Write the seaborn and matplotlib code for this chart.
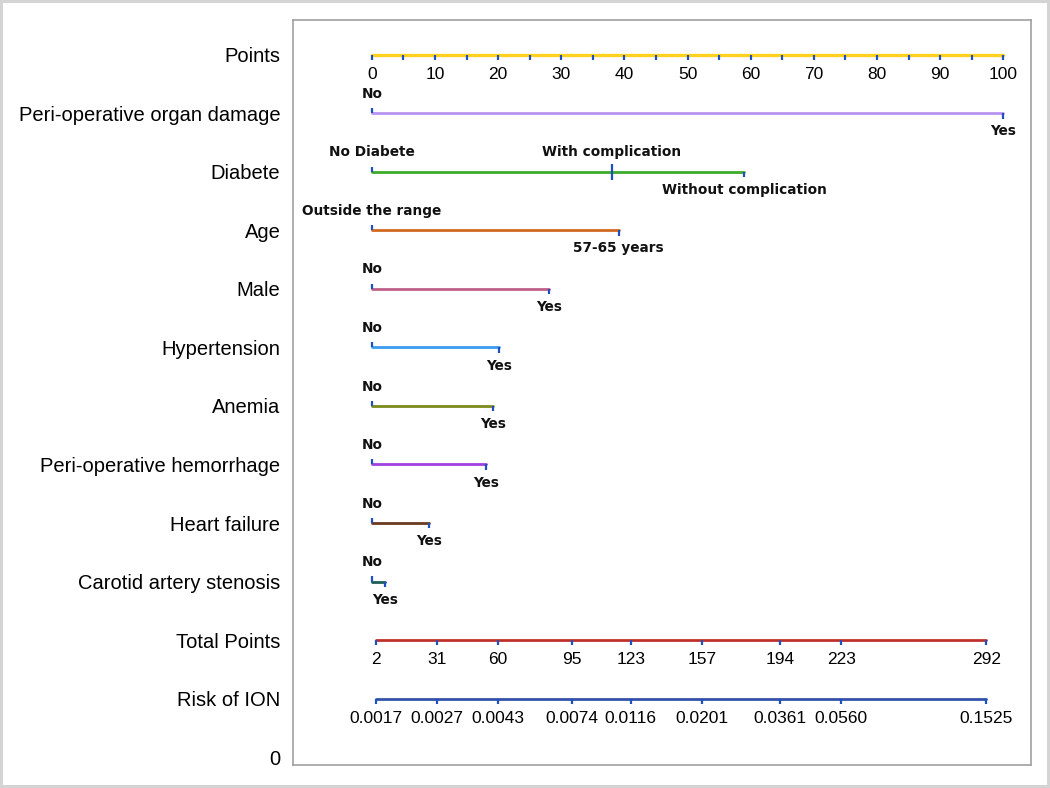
import matplotlib
matplotlib.use("Agg")
import matplotlib.pyplot as plt
import seaborn as sns

# rows of the nomogram, top to bottom
row_names = ["Points", "Peri-operative organ damage", "Diabete", "Age", "Male",
             "Hypertension", "Anemia", "Peri-operative hemorrhage", "Heart failure",
             "Carotid artery stenosis", "Total Points", "Risk of ION", "0"]

points_ticks = list(range(0, 101, 5))
points_labels = list(range(0, 101, 10))

# predictor scales (points on the Points axis + level labels)
organ_pts = [0, 100]
organ_lab = ["No", "Yes"]
diabete_pts = [0, 38, 59]
diabete_lab = ["No Diabete", "With complication", "Without complication"]
age_pts = [0, 39.1]
age_lab = ["Outside the range", "57-65 years"]
male_pts = [0, 28.1]
hyper_pts = [0, 20.1]
anemia_pts = [0, 19.2]
hemor_pts = [0, 18.1]
heart_pts = [0, 9.0]
carotid_pts = [0, 2.1]
no_yes = ["No", "Yes"]

total_ticks = [2, 31, 60, 95, 123, 157, 194, 223, 292]
risk_labels = ["0.0017", "0.0027", "0.0043", "0.0074", "0.0116",
               "0.0201", "0.0361", "0.0560", "0.1525"]
total_per_point = 3.0  # total points -> points axis

predictors = [
    ("Peri-operative organ damage", organ_pts, organ_lab, ["a", "b"], "#B794F0"),
    ("Diabete", diabete_pts, diabete_lab, ["a", "a", "b"], "#3DAA2E"),
    ("Age", age_pts, age_lab, ["a", "b"], "#D2691E"),
    ("Male", male_pts, no_yes, ["a", "b"], "#C06088"),
    ("Hypertension", hyper_pts, no_yes, ["a", "b"], "#3A9BF0"),
    ("Anemia", anemia_pts, no_yes, ["a", "b"], "#7A8A1C"),
    ("Peri-operative hemorrhage", hemor_pts, no_yes, ["a", "b"], "#A040E0"),
    ("Heart failure", heart_pts, no_yes, ["a", "b"], "#6B3A1F"),
    ("Carotid artery stenosis", carotid_pts, no_yes, ["a", "b"], "#1F5F5A"),
]

tick_col = "#2050C0"
sns.set_style("white")
plt.rcParams["font.family"] = ["Liberation Sans", "DejaVu Sans"]
plt.rcParams["text.color"] = "black"
plt.rcParams["ytick.color"] = "black"

fig = plt.figure(figsize=(10.5, 7.88), dpi=100)
fig.patch.set_edgecolor("#D4D4D4")
fig.patch.set_linewidth(3)
ax = fig.add_axes([0.279, 0.029, 0.703, 0.946])

ypos = {name: len(row_names) - 1 - i for i, name in enumerate(row_names)}
tl = 0.09
lab_font = dict(family="DejaVu Sans", fontsize=9.8, fontweight="semibold", color="#111111")

# Points axis
y = ypos["Points"]
sns.lineplot(x=[0, 100], y=[y, y], color="#FFD21F", linewidth=2.4, ax=ax)
ax.vlines(points_ticks, y - tl, y, color=tick_col, linewidth=1.6)
for v in points_labels:
    ax.annotate(str(v), (v, y), xytext=(0, -14), textcoords="offset points",
                ha="center", va="center", fontsize=12.5)

# predictors
for name, pts, labs, sides, col in predictors:
    y = ypos[name]
    sns.lineplot(x=[pts[0], pts[-1]], y=[y, y], color=col, linewidth=2.0, ax=ax)
    for p, lab, s in zip(pts, labs, sides):
        if s == "a":
            lo, hi = y, y + tl
        else:
            lo, hi = y - tl, y
        if 0 < p < pts[-1]:
            lo, hi = y - tl * 1.5, y + tl * 1.5
        ax.vlines(p, lo, hi, color=tick_col, linewidth=1.6)
        off = 14 if s == "a" else -13
        ax.annotate(lab, (p, y), xytext=(0, off), textcoords="offset points",
                    ha="center", va="center", **lab_font)

# total points and risk
tx = [t / total_per_point for t in total_ticks]
for name, col, labs in [("Total Points", "#C0302A", [str(t) for t in total_ticks]),
                        ("Risk of ION", "#3352A8", risk_labels)]:
    y = ypos[name]
    sns.lineplot(x=[tx[0], tx[-1]], y=[y, y], color=col, linewidth=2.0, ax=ax)
    ax.vlines(tx, y - tl, y, color=tick_col, linewidth=1.6)
    for x, lab in zip(tx, labs):
        ax.annotate(lab, (x, y), xytext=(0, -14), textcoords="offset points",
                    ha="center", va="center", fontsize=12.5)

ax.set_xlim(-12.5, 104.4)
ax.set_ylim(-0.137, 12.6)
ax.set_xticks([])
ax.set_yticks([ypos[n] for n in row_names])
ax.set_yticklabels(row_names, fontsize=14.5)
ax.tick_params(axis="y", length=0, pad=9)
for s in ax.spines.values():
    s.set_color("#A0A0A0")
    s.set_linewidth(1.2)
ax.set_xlabel("")
ax.set_ylabel("")

fig.savefig("out.png", dpi=100, edgecolor=fig.get_edgecolor())
